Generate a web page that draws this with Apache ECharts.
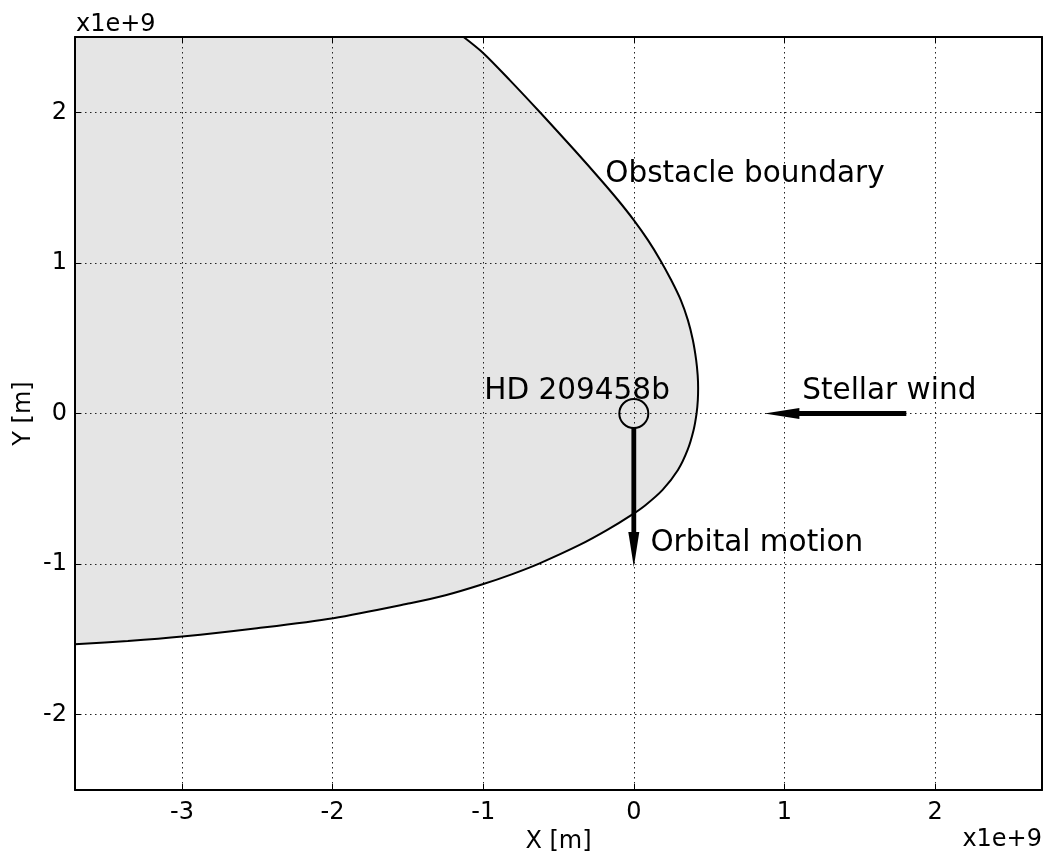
<!DOCTYPE html>
<html><head><meta charset="utf-8">
<script src="https://cdn.jsdelivr.net/npm/echarts@6/dist/echarts.min.js"></script>
<style>html,body{margin:0;padding:0;background:#fff}#c{width:1046px;height:852px}</style>
</head><body><div id="c"></div><script>
// ---- data (units of 1e9 m) ----
const xRange = [-3.71, 2.71];
const yRange = [-2.5, 2.5];
const boundaryX = [-1.130, -0.997, -0.822, -0.623, -0.393, -0.217, -0.104, 0.000, 0.094, 0.176, 0.248, 0.312, 0.359, 0.392, 0.414, 0.424, 0.427, 0.425, 0.417, 0.397, 0.357, 0.293, 0.191, 0.079, -0.014, -0.176, -0.360, -0.625, -0.811, -1.004, -1.250, -1.485, -1.995, -2.502, -2.998, -3.359, -3.711];
const boundaryY = [2.500, 2.391, 2.212, 2.000, 1.748, 1.549, 1.416, 1.284, 1.151, 1.018, 0.886, 0.753, 0.620, 0.488, 0.355, 0.255, 0.169, 0.090, 0.003, -0.109, -0.242, -0.375, -0.507, -0.607, -0.673, -0.773, -0.873, -0.995, -1.068, -1.134, -1.207, -1.260, -1.359, -1.426, -1.481, -1.511, -1.533];
const planetPos = [0, 0];
const arrowFrom = [[1.809, 0], [0, -0.09]];
const arrowTo = [[0.867, 0], [0, -1.02]];
const labelTexts = ['Obstacle boundary', 'HD 209458b', 'Stellar wind', 'Orbital motion'];
const labelPos = [[-0.19, 1.585], [-0.993, 0.147], [1.118, 0.147], [0.11, -0.86]];
const xName = 'X [m]';
const yName = 'Y [m]';
const exponentText = 'x1e+9';

// ---- chart ----
const FONT = 'DejaVu Sans';
const chart = echarts.init(document.getElementById('c'), null, {renderer: 'canvas'});
function intLabel(v) { return Math.abs(v - Math.round(v)) < 1e-9 ? String(Math.round(v)) : ''; }
const frameLine = {show: true, onZero: false, lineStyle: {color: '#000', width: 2}};
const tick = {show: true, inside: true, length: 6, lineStyle: {color: '#000', width: 1}};
const split = {show: true, lineStyle: {color: '#222', width: 1, type: [1.5, 3.5]}};
const tickFont = {color: '#000', fontSize: 24, fontFamily: FONT};

function mkX(pos, main) {
  return {
    type: 'value', position: pos, min: xRange[0], max: xRange[1], splitNumber: 6,
    axisLine: frameLine, axisTick: tick,
    axisLabel: main ? Object.assign({show: true, formatter: intLabel, showMinLabel: false, showMaxLabel: false, margin: 11}, tickFont) : {show: false},
    splitLine: main ? split : {show: false},
    name: main ? xName : '', nameLocation: 'middle', nameGap: 40, nameMoveOverlap: false,
    nameTextStyle: {color: '#000', fontSize: 24, fontFamily: FONT}
  };
}
function mkY(pos, main) {
  return {
    type: 'value', position: pos, min: yRange[0], max: yRange[1], splitNumber: 5,
    axisLine: frameLine, axisTick: tick,
    axisLabel: main ? Object.assign({show: true, formatter: intLabel, showMinLabel: false, showMaxLabel: false, margin: 8}, tickFont) : {show: false},
    splitLine: main ? split : {show: false},
    name: main ? yName : '', nameLocation: 'middle', nameGap: 39, nameRotate: 90, nameMoveOverlap: false,
    nameTextStyle: {color: '#000', fontSize: 24, fontFamily: FONT}
  };
}

const boundaryData = boundaryX.map((x, i) => [x, boundaryY[i]]);
const arrowData = arrowFrom.map((f, i) => [f[0], f[1], arrowTo[i][0], arrowTo[i][1]]);
const labelData = labelTexts.map((t, i) => [labelPos[i][0], labelPos[i][1], i]);

const option = {
  animation: false,
  backgroundColor: '#fff',
  grid: {left: 75, right: 4, top: 37, bottom: 62, containLabel: false, outerBoundsMode: 'none'},
  xAxis: [mkX('bottom', true), mkX('top', false)],
  yAxis: [mkY('left', true), mkY('right', false)],
  graphic: [
    {type: 'text', left: 76, top: 13, style: {text: exponentText, fill: '#000', font: '24px "DejaVu Sans"'}},
    {type: 'text', right: 4, top: 828, style: {text: exponentText, fill: '#000', font: '24px "DejaVu Sans"'}}
  ],
  series: [
    {
      type: 'custom', name: 'fill', z: -1, silent: true, clip: true,
      data: [0],
      renderItem: function (params, api) {
        const pts = boundaryData.map(p => api.coord(p));
        pts.push(api.coord([xRange[0], yRange[1]]));
        return {type: 'polygon', shape: {points: pts}, style: {fill: '#e5e5e5', stroke: null}};
      }
    },
    {
      type: 'line', name: 'Obstacle boundary', data: boundaryData, smooth: 0.3,
      showSymbol: false, symbol: 'none', z: 3, clip: true,
      lineStyle: {color: '#000', width: 2}
    },
    {
      type: 'custom', name: 'arrows', z: 4, silent: true,
      data: arrowData, encode: {x: [0, 2], y: [1, 3]},
      renderItem: function (params, api) {
        const p0 = api.coord([api.value(0), api.value(1)]);
        const p1 = api.coord([api.value(2), api.value(3)]);
        const dx = p1[0] - p0[0], dy = p1[1] - p0[1];
        const len = Math.hypot(dx, dy);
        const ux = dx / len, uy = dy / len, nx = -uy, ny = ux;
        const hl = 35, hw = 5.5;
        const b = [p1[0] - ux * hl, p1[1] - uy * hl];
        return {type: 'group', children: [
          {type: 'line', shape: {x1: p0[0], y1: p0[1], x2: b[0] + ux * 3, y2: b[1] + uy * 3}, style: {stroke: '#000', lineWidth: 4.8}},
          {type: 'polygon', shape: {points: [p1, [b[0] + nx * hw, b[1] + ny * hw], [b[0] - nx * hw, b[1] - ny * hw]]}, style: {fill: '#000'}}
        ]};
      }
    },
    {
      type: 'scatter', name: 'HD 209458b', z: 4, silent: true,
      data: [planetPos], symbol: 'circle', symbolSize: 29,
      itemStyle: {color: 'rgba(0,0,0,0)', borderColor: '#000', borderWidth: 2, opacity: 1}
    },
    {
      type: 'custom', name: 'labels', z: 5, silent: true,
      data: labelData, encode: {x: 0, y: 1},
      renderItem: function (params, api) {
        const p = api.coord([api.value(0), api.value(1)]);
        return {type: 'text', x: p[0], y: p[1], style: {
          text: labelTexts[api.value(2)], fill: '#000',
          font: '29.5px "DejaVu Sans"', align: 'left', verticalAlign: 'middle'
        }};
      }
    }
  ]
};
chart.setOption(option);
</script></body></html>
